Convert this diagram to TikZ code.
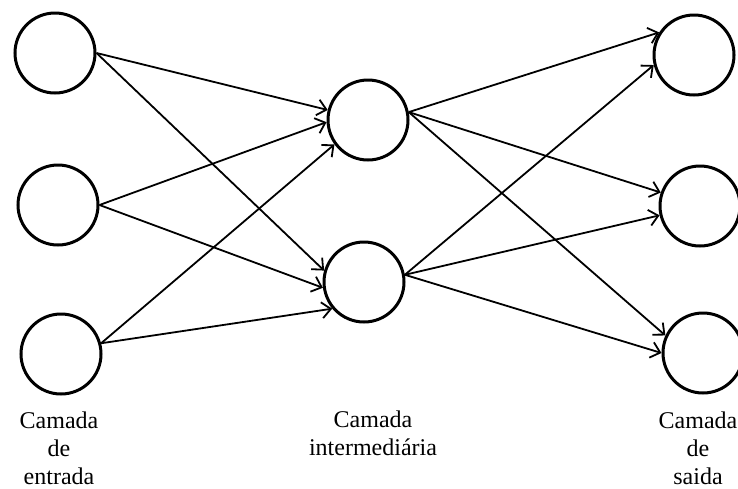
\documentclass[tikz,border=0pt]{standalone}
\usepackage{fontspec}
\setmainfont{Liberation Serif}
\usetikzlibrary{arrows.meta}
\begin{document}
\begin{tikzpicture}[x=1pt,y=-1pt,
  neuron/.style={circle,draw,line width=3pt,minimum size=80pt,inner sep=0pt},
  conn/.style={line width=1.8pt,-{Straight Barb[length=9pt,width=16pt,line width=1.8pt]}},
  lbl/.style={font=\fontsize{24}{28}\selectfont,align=center,anchor=base,inner sep=0pt}]
\useasboundingbox (0,0) rectangle (738,488);
\node[neuron] (i1) at (55,53) {};
\node[neuron] (i2) at (58,205) {};
\node[neuron] (i3) at (61,354) {};
\node[neuron] (h1) at (368,120) {};
\node[neuron] (h2) at (364,282) {};
\node[neuron] (o1) at (694,55) {};
\node[neuron] (o2) at (700,206) {};
\node[neuron] (o3) at (703,353) {};
\draw[conn] (i1.east) -- (h1.166);
\draw[conn] (i1.east) -- (h2.164);
\draw[conn] (i2.east) -- (h1.183);
\draw[conn] (i2.east) -- (h2.188);
\draw[conn] (i3.15) -- (h1.216);
\draw[conn] (i3.15) -- (h2.220);
\draw[conn] (h1.11) -- (o1.147);
\draw[conn] (h1.11) -- (o2.161);
\draw[conn] (h1.11) -- (o3.155);
\draw[conn] (h2.10) -- (o1.194);
\draw[conn] (h2.10) -- (o2.193);
\draw[conn] (h2.10) -- (o3.180);
\node[lbl] (l1) at (59,484) {Camada\\de\\entrada};
\node[lbl] (l2) at (373,455) {Camada\\intermediária};
\node[lbl] (l3) at (698,484) {Camada\\de\\saida};
\end{tikzpicture}
\end{document}
